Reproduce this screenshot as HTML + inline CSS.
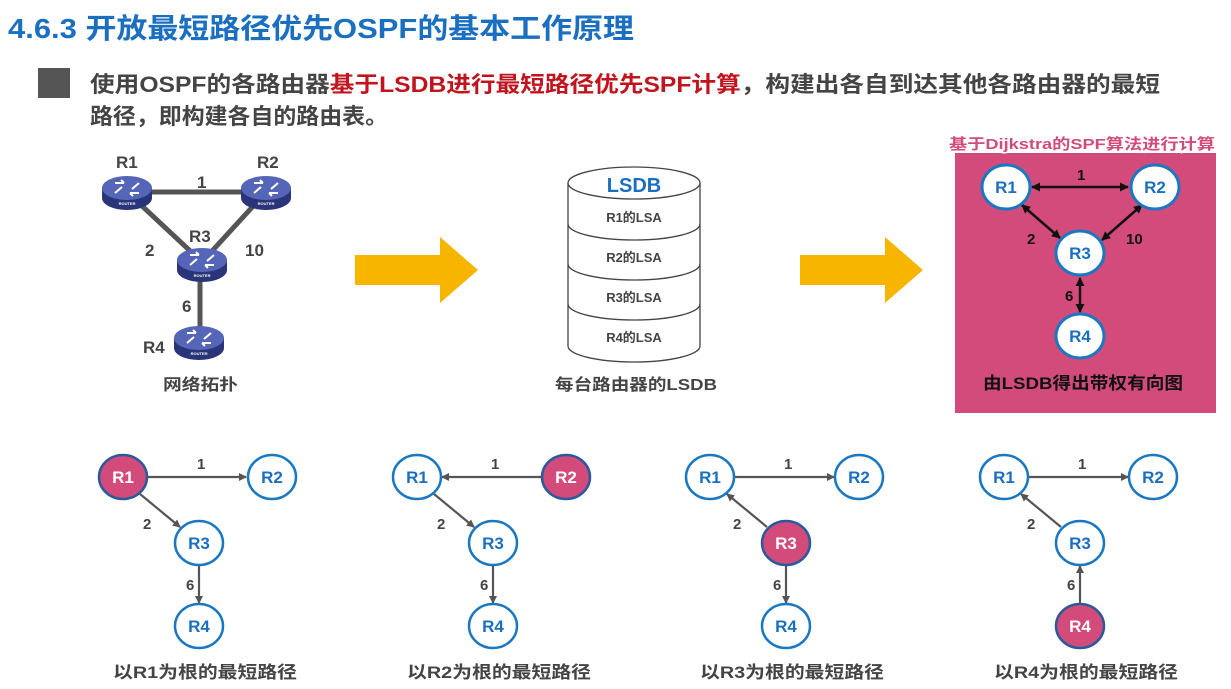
<!DOCTYPE html>
<html><head><meta charset="utf-8"><style>
html,body{margin:0;padding:0;background:#fff;}
svg{display:block;font-family:"Liberation Sans","Noto Sans CJK SC",sans-serif;font-weight:bold;}
</style></head><body>
<svg width="1231" height="689" viewBox="0 0 1231 689" xmlns="http://www.w3.org/2000/svg">
<defs>
<marker id="ag" markerWidth="8" markerHeight="8" refX="7" refY="4" orient="auto" markerUnits="userSpaceOnUse"><path d="M0,0 L8,4 L0,8 z" fill="#555"/></marker>
<marker id="ab" markerWidth="9" markerHeight="9" refX="8" refY="4.5" orient="auto" markerUnits="userSpaceOnUse"><path d="M0,0 L9,4.5 L0,9 z" fill="#111"/></marker>
<marker id="abs" markerWidth="9" markerHeight="9" refX="1" refY="4.5" orient="auto" markerUnits="userSpaceOnUse"><path d="M9,0 L0,4.5 L9,9 z" fill="#111"/></marker>
<g id="router">
<ellipse cx="0" cy="6" rx="25" ry="12" fill="#2a3478"/>
<rect x="-25" y="-4" width="50" height="10" fill="#2a3478"/>
<ellipse cx="0" cy="-4" rx="25" ry="12" fill="#5566b8"/>
<path d="M-12,-9 h9 M-3,-9 l-3,-3 M12,1 h-9 M3,1 l3,3 M-12,1 l7,-6 M12,-9 l-7,6" stroke="#fff" stroke-width="2" fill="none"/>
<text x="0" y="13" font-size="4" fill="#fff" text-anchor="middle">ROUTER</text>
</g>
</defs>

<text x="8" y="38" font-size="28" fill="#1a6fc0" textLength="626" lengthAdjust="spacingAndGlyphs">4.6.3 开放最短路径优先OSPF的基本工作原理</text>
<rect x="38" y="68" width="32" height="30" fill="#555"/>
<text x="90" y="92" font-size="22" fill="#444" textLength="1070" lengthAdjust="spacingAndGlyphs">使用OSPF的各路由器<tspan fill="#c0141e">基于LSDB进行最短路径优先SPF计算</tspan>，构建出各自到达其他各路由器的最短</text>
<text x="90" y="124" font-size="22" fill="#444" textLength="298" lengthAdjust="spacingAndGlyphs">路径，即构建各自的路由表。</text>

<g stroke="#555" stroke-width="5">
<line x1="127" y1="192" x2="266" y2="192"/>
<line x1="127" y1="192" x2="202" y2="262"/>
<line x1="266" y1="192" x2="202" y2="262"/>
<line x1="200" y1="262" x2="200" y2="340"/>
</g>
<use href="#router" x="127" y="192"/>
<use href="#router" x="266" y="192"/>
<use href="#router" x="202" y="264"/>
<use href="#router" x="199" y="342"/>
<g font-size="17" fill="#444">
<text x="116" y="168">R1</text><text x="257" y="168">R2</text><text x="189" y="242">R3</text><text x="143" y="353">R4</text>
<text x="197" y="188">1</text><text x="145" y="256">2</text><text x="245" y="256">10</text><text x="182" y="312">6</text>
</g>
<text x="163" y="390" font-size="16" fill="#444" textLength="75" lengthAdjust="spacingAndGlyphs">网络拓扑</text>

<path d="M355,255 H440 V237 L478,270 L440,303 V285 H355 Z" fill="#f7b500"/>
<path d="M800,255 H885 V237 L923,270 L885,303 V285 H800 Z" fill="#f7b500"/>

<g stroke="#444" stroke-width="1.3" fill="#fff">
<path d="M568,183 V346 A66,16 0 0 0 700,346 V183"/>
<ellipse cx="634" cy="183" rx="66" ry="16"/>
<path d="M568,224 A66,16 0 0 0 700,224" fill="none"/>
<path d="M568,264 A66,16 0 0 0 700,264" fill="none"/>
<path d="M568,304 A66,16 0 0 0 700,304" fill="none"/>
</g>
<text x="634" y="192" font-size="20" fill="#1a6fc0" text-anchor="middle">LSDB</text>
<g font-size="13" fill="#444" text-anchor="middle">
<text x="634" y="222">R1的LSA</text><text x="634" y="262">R2的LSA</text><text x="634" y="302">R3的LSA</text><text x="634" y="342">R4的LSA</text>
</g>
<text x="555" y="390" font-size="16" fill="#444" textLength="162" lengthAdjust="spacingAndGlyphs">每台路由器的LSDB</text>

<rect x="955" y="153" width="261" height="260" fill="#d24b7b"/>
<text x="1082" y="149" font-size="15" fill="#d24b7b" stroke="#fff" stroke-width="3" paint-order="stroke" text-anchor="middle" textLength="266" lengthAdjust="spacingAndGlyphs">基于Dijkstra的SPF算法进行计算</text>
<g stroke="#111" stroke-width="2.5">
<line x1="1032" y1="187" x2="1128" y2="187" marker-end="url(#ab)" marker-start="url(#abs)"/>
<line x1="1022" y1="205" x2="1060" y2="238" marker-end="url(#ab)" marker-start="url(#abs)"/>
<line x1="1142" y1="205" x2="1102" y2="240" marker-end="url(#ab)" marker-start="url(#abs)"/>
<line x1="1080" y1="278" x2="1080" y2="312" marker-end="url(#ab)" marker-start="url(#abs)"/>
</g>
<g stroke="#1a78c2" stroke-width="3" fill="#fff">
<ellipse cx="1006" cy="187" rx="24" ry="22"/><ellipse cx="1155" cy="187" rx="24" ry="22"/>
<ellipse cx="1080" cy="253" rx="24" ry="22"/><ellipse cx="1080" cy="336" rx="24" ry="22"/>
</g>
<g font-size="17" fill="#1a6fc0" text-anchor="middle">
<text x="1006" y="193">R1</text><text x="1155" y="193">R2</text><text x="1080" y="259">R3</text><text x="1080" y="342">R4</text>
</g>
<g font-size="15" fill="#111">
<text x="1077" y="180">1</text><text x="1027" y="244">2</text><text x="1126" y="244">10</text><text x="1065" y="301">6</text>
</g>
<text x="983" y="389" font-size="17" fill="#111" textLength="200" lengthAdjust="spacingAndGlyphs">由LSDB得出带权有向图</text>

<g stroke="#555" stroke-width="2.2">
<line x1="147" y1="477" x2="246" y2="477" marker-end="url(#ag)"/>
<line x1="140" y1="494" x2="180" y2="527" marker-end="url(#ag)"/>
<line x1="199" y1="565" x2="199" y2="603" marker-end="url(#ag)"/>
<line x1="541" y1="477" x2="442" y2="477" marker-end="url(#ag)"/>
<line x1="434" y1="494" x2="474" y2="527" marker-end="url(#ag)"/>
<line x1="493" y1="565" x2="493" y2="603" marker-end="url(#ag)"/>
<line x1="735" y1="477" x2="834" y2="477" marker-end="url(#ag)"/>
<line x1="767" y1="527" x2="727" y2="494" marker-end="url(#ag)"/>
<line x1="786" y1="565" x2="786" y2="603" marker-end="url(#ag)"/>
<line x1="1029" y1="477" x2="1128" y2="477" marker-end="url(#ag)"/>
<line x1="1061" y1="527" x2="1021" y2="494" marker-end="url(#ag)"/>
<line x1="1080" y1="604" x2="1080" y2="566" marker-end="url(#ag)"/>
</g>
<g stroke="#1a78c2" stroke-width="2.5" fill="#fff">
<ellipse cx="123" cy="477" rx="24" ry="22" fill="#d24b7b" stroke="#2a5a9a"/><ellipse cx="272" cy="477" rx="24" ry="22"/><ellipse cx="199" cy="543" rx="24" ry="22"/><ellipse cx="199" cy="626" rx="24" ry="22"/>
<ellipse cx="417" cy="477" rx="24" ry="22"/><ellipse cx="566" cy="477" rx="24" ry="22" fill="#d24b7b" stroke="#2a5a9a"/><ellipse cx="493" cy="543" rx="24" ry="22"/><ellipse cx="493" cy="626" rx="24" ry="22"/>
<ellipse cx="710" cy="477" rx="24" ry="22"/><ellipse cx="859" cy="477" rx="24" ry="22"/><ellipse cx="786" cy="543" rx="24" ry="22" fill="#d24b7b" stroke="#2a5a9a"/><ellipse cx="786" cy="626" rx="24" ry="22"/>
<ellipse cx="1004" cy="477" rx="24" ry="22"/><ellipse cx="1153" cy="477" rx="24" ry="22"/><ellipse cx="1080" cy="543" rx="24" ry="22"/><ellipse cx="1080" cy="626" rx="24" ry="22" fill="#d24b7b" stroke="#2a5a9a"/>
</g>
<g font-size="17" fill="#1a6fc0" text-anchor="middle">
<text x="123" y="483" fill="#fff">R1</text><text x="272" y="483">R2</text><text x="199" y="549">R3</text><text x="199" y="632">R4</text>
<text x="417" y="483">R1</text><text x="566" y="483" fill="#fff">R2</text><text x="493" y="549">R3</text><text x="493" y="632">R4</text>
<text x="710" y="483">R1</text><text x="859" y="483">R2</text><text x="786" y="549" fill="#fff">R3</text><text x="786" y="632">R4</text>
<text x="1004" y="483">R1</text><text x="1153" y="483">R2</text><text x="1080" y="549">R3</text><text x="1080" y="632" fill="#fff">R4</text>
</g>
<g font-size="15" fill="#444">
<text x="197" y="469">1</text><text x="143" y="529">2</text><text x="186" y="590">6</text>
<text x="491" y="469">1</text><text x="437" y="529">2</text><text x="480" y="590">6</text>
<text x="784" y="469">1</text><text x="733" y="529">2</text><text x="773" y="590">6</text>
<text x="1078" y="469">1</text><text x="1027" y="529">2</text><text x="1067" y="590">6</text>
</g>
<g font-size="17" fill="#444">
<text x="113" y="678" textLength="184" lengthAdjust="spacingAndGlyphs">以R1为根的最短路径</text>
<text x="407" y="678" textLength="184" lengthAdjust="spacingAndGlyphs">以R2为根的最短路径</text>
<text x="700" y="678" textLength="184" lengthAdjust="spacingAndGlyphs">以R3为根的最短路径</text>
<text x="994" y="678" textLength="184" lengthAdjust="spacingAndGlyphs">以R4为根的最短路径</text>
</g>
</svg>
</body></html>
